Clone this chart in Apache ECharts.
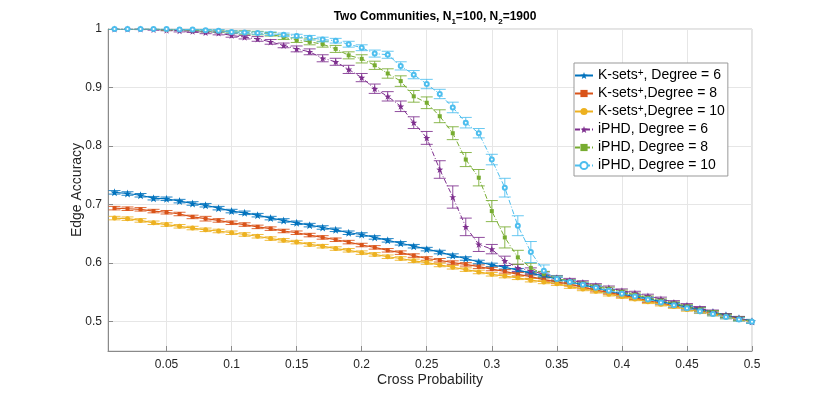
<!DOCTYPE html>
<html>
<head>
<meta charset="utf-8">
<script src="https://cdn.jsdelivr.net/npm/echarts@6/dist/echarts.min.js"></script>
<style>
html,body{margin:0;padding:0;background:#fff;}
#main{width:830px;height:395px;}
</style>
</head>
<body>
<div id="main"></div>
<script>
// cross probability
var crossProb = [0.01,0.02,0.03,0.04,0.05,0.06,0.07,0.08,0.09,0.10,
	0.11,0.12,0.13,0.14,0.15,0.16,0.17,0.18,0.19,0.20,
	0.21,0.22,0.23,0.24,0.25,0.26,0.27,0.28,0.29,0.30,
	0.31,0.32,0.33,0.34,0.35,0.36,0.37,0.38,0.39,0.40,
	0.41,0.42,0.43,0.44,0.45,0.46,0.47,0.48,0.49,0.50];

var ksets6 = [.721,.719,.716,.711,.710,.706,.702,.699,.694,.689,.686,.682,.677,.673,.669,.665,.661,.657,.652,.649,
	.644,.639,.634,.629,.624,.619,.613,.608,.602,.597,.593,.588,.583,.578,.573,.568,.563,.558,.552,.547,
	.543,.539,.534,.530,.525,.521,.516,.511,.506,.501];
var ksets8 = [.694,.693,.692,.689,.687,.684,.679,.676,.673,.669,.666,.662,.659,.655,.652,.648,.644,.640,.636,.631,
	.627,.622,.618,.613,.608,.605,.601,.598,.594,.590,.586,.581,.577,.572,.568,.564,.559,.554,.550,.545,
	.541,.536,.532,.527,.523,.518,.514,.509,.505,.500];
var ksets10 = [.677,.676,.673,.669,.666,.663,.660,.657,.655,.652,.649,.646,.642,.639,.636,.632,.629,.625,.622,.618,
	.615,.611,.608,.604,.601,.597,.593,.589,.585,.581,.578,.575,.571,.568,.565,.560,.556,.552,.547,.543,
	.539,.534,.530,.526,.521,.517,.513,.508,.504,.500];
var iphd6 = [1.000,1.000,1.000,0.999,0.998,0.997,0.996,0.994,0.993,0.989,0.986,0.983,0.978,0.972,0.966,0.961,0.950,0.944,0.931,0.917,
	0.898,0.885,0.868,0.840,0.814,0.760,0.713,0.662,0.632,0.624,0.604,0.592,0.587,0.581,0.575,0.571,0.567,0.562,0.558,0.553,
	0.549,0.544,0.539,0.533,0.528,0.523,0.517,0.511,0.506,0.500];
var iphd8 = [1.000,1.000,1.000,1.000,0.999,0.999,0.998,0.997,0.996,0.995,0.994,0.993,0.991,0.986,0.981,0.978,0.974,0.966,0.955,0.949,
	0.938,0.924,0.911,0.885,0.874,0.851,0.822,0.777,0.746,0.689,0.644,0.610,0.592,0.581,0.574,0.569,0.565,0.560,0.556,0.551,
	0.546,0.541,0.536,0.531,0.526,0.521,0.516,0.510,0.505,0.500];
var iphd10 = [1.000,1.000,1.000,1.000,1.000,0.999,0.999,0.998,0.997,0.995,0.994,0.993,0.992,0.990,0.988,0.985,0.982,0.980,0.974,0.968,
	0.958,0.956,0.937,0.922,0.906,0.889,0.866,0.840,0.822,0.777,0.729,0.664,0.619,0.587,0.573,0.568,0.563,0.558,0.553,0.548,
	0.543,0.538,0.533,0.528,0.523,0.518,0.513,0.508,0.504,0.500];

// error bar half lengths
var ksetsErr6 = [.003,.003,.003,.003,.003,.003,.003,.003,.003,.003,.003,.003,.003,.003,.003,.003,.003,.003,.003,.003,
	.003,.003,.003,.003,.003,.003,.003,.003,.003,.003,.003,.003,.003,.003,.003,.003,.003,.003,.003,.003,
	.003,.003,.003,.003,.003,.003,.003,.003,.003,.003];
var ksetsErr8 = [.003,.003,.003,.003,.003,.003,.003,.004,.003,.003,.003,.003,.003,.003,.003,.003,.003,.003,.003,.003,
	.003,.003,.003,.003,.003,.003,.003,.003,.003,.003,.003,.003,.003,.003,.003,.003,.003,.003,.003,.003,
	.003,.003,.003,.003,.003,.003,.003,.003,.003,.003];
var ksetsErr10 = [.003,.003,.003,.003,.003,.003,.003,.003,.003,.003,.003,.003,.003,.003,.003,.003,.003,.003,.003,.003,
	.003,.003,.003,.003,.003,.003,.003,.003,.003,.003,.003,.003,.003,.003,.003,.003,.003,.003,.003,.003,
	.003,.003,.003,.003,.003,.003,.003,.003,.003,.003];
var iphdErr6 = [0,0,.001,.001,.001,.002,.002,.002,.003,.003,.003,.004,.004,.004,.005,.005,.006,.006,.007,.007,
	.008,.008,.009,.010,.011,.015,.019,.015,.012,.008,.008,.006,.005,.004,.004,.003,.003,.003,.003,.003,
	.003,.003,.003,.003,.003,.003,.003,.003,.003,.003];
var iphdErr8 = [0,0,0,0,.001,.001,.001,.002,.002,.002,.003,.003,.003,.004,.004,.005,.005,.006,.006,.007,
	.007,.008,.009,.010,.010,.011,.011,.012,.014,.018,.018,.012,.008,.005,.004,.003,.003,.003,.003,.003,
	.003,.003,.003,.003,.003,.003,.003,.003,.003,.003];
var iphdErr10 = [0,0,0,0,0,.001,.001,.001,.002,.002,.002,.002,.003,.003,.003,.004,.004,.004,.005,.005,
	.006,.006,.007,.007,.008,.008,.009,.009,.008,.009,.016,.017,.018,.010,.005,.003,.003,.003,.003,.003,
	.003,.003,.003,.003,.003,.003,.003,.003,.003,.003];

var xTicks = [0.05,0.1,0.15,0.2,0.25,0.3,0.35,0.4,0.45,0.5];
var yTicks = [0.5,0.6,0.7,0.8,0.9,1];

var starPath = 'path://M0,-10L2.35,-3.24L9.51,-3.09L3.8,1.24L5.88,8.09L0,4L-5.88,8.09L-3.8,1.24L-9.51,-3.09L-2.35,-3.24Z';

var seriesDefs = [
	{name:'ks6', y:ksets6, err:ksetsErr6, color:'#0072BD', symbol:starPath, size:8, dash:'solid', hollow:false},
	{name:'ks8', y:ksets8, err:ksetsErr8, color:'#D95319', symbol:'rect', size:4, dash:'solid', hollow:false},
	{name:'ks10', y:ksets10, err:ksetsErr10, color:'#EDB120', symbol:'circle', size:5, dash:'solid', hollow:false},
	{name:'ip6', y:iphd6, err:iphdErr6, color:'#7E2F8E', symbol:starPath, size:7, dash:[5,2,1,2], hollow:false},
	{name:'ip8', y:iphd8, err:iphdErr8, color:'#77AC30', symbol:'rect', size:4, dash:[5,2,1,2], hollow:false},
	{name:'ip10', y:iphd10, err:iphdErr10, color:'#4DBEEE', symbol:'emptyCircle', size:4, dash:[5,2,1,2], hollow:true}
];

var legendText = {
	ks6:'K-sets{sup|+}, Degree = 6',
	ks8:'K-sets{sup|+},Degree = 8',
	ks10:'K-sets{sup|+},Degree = 10',
	ip6:'iPHD, Degree = 6',
	ip8:'iPHD, Degree = 8',
	ip10:'iPHD, Degree = 10'
};

function makeErrRender(color){
	return function(params, api){
		var x = api.value(0), y = api.value(1), e = api.value(2);
		var top = api.coord([x, y + e]);
		var bot = api.coord([x, y - e]);
		var w = 6;
		var st = {stroke: color, lineWidth: 1, opacity: 0.85};
		return {type:'group', children:[
			{type:'line', shape:{x1:top[0], y1:top[1], x2:bot[0], y2:bot[1]}, style:st},
			{type:'line', shape:{x1:top[0]-w, y1:top[1], x2:top[0]+w, y2:top[1]}, style:st},
			{type:'line', shape:{x1:bot[0]-w, y1:bot[1], x2:bot[0]+w, y2:bot[1]}, style:st}
		]};
	};
}

var series = [];
seriesDefs.forEach(function(d){
	var errData = [];
	crossProb.forEach(function(x, i){ errData.push([x, d.y[i], d.err[i]]); });
	series.push({
		name: d.name + '_err',
		type: 'custom',
		renderItem: makeErrRender(d.color),
		data: errData,
		encode: {x:0, y:1},
		clip: true,
		silent: true,
		z: 2
	});
});
seriesDefs.forEach(function(d){
	var lineData = [];
	crossProb.forEach(function(x, i){ lineData.push([x, d.y[i]]); });
	series.push({
		name: d.name,
		type: 'line',
		data: lineData,
		color: d.color,
		symbol: d.symbol,
		symbolSize: d.size,
		showAllSymbol: true,
		lineStyle: {width: d.dash === 'solid' ? 1.2 : 1, type: d.dash, color: d.color},
		itemStyle: {color: d.color, borderColor: d.color, borderWidth: d.hollow ? 1 : 0},
		z: 3
	});
});

var myChart = echarts.init(document.getElementById('main'));
var option = {
	animation: false,
	backgroundColor: '#fff',
	textStyle: {fontFamily: 'Liberation Sans'},
	title: {
		text: 'Two Communities, N{sub|1}=100, N{sub|2}=1900',
		left: 430,
		textAlign: 'center',
		top: 3,
		textStyle: {
			fontSize: 12, fontWeight: 'bold', color: '#000', lineHeight: 18,
			rich: {sub: {fontSize: 8, fontWeight: 'bold', lineHeight: 8, verticalAlign: 'bottom', color: '#000'}}
		}
	},
	legend: {
		data: seriesDefs.map(function(d){ return d.name; }),
		orient: 'vertical',
		left: 574,
		top: 63,
		padding: [5, 3, 3, 0],
		itemGap: 3,
		itemWidth: 18,
		itemHeight: 9,
		backgroundColor: '#fff',
		borderColor: '#999',
		borderWidth: 1,
		borderRadius: 0,
		formatter: function(name){ return legendText[name]; },
		textStyle: {
			fontSize: 14, color: '#000', lineHeight: 15,
			rich: {sup: {fontSize: 10, verticalAlign: 'top', lineHeight: 10, color: '#000'}}
		}
	},
	grid: {
		left: 108, right: 78, top: 29, bottom: 44,
		show: true, borderColor: '#c8c8c8', borderWidth: 1
	},
	xAxis: {
		type: 'value',
		min: 0.005,
		max: 0.5,
		name: 'Cross Probability',
		nameLocation: 'middle',
		nameGap: 22,
		nameMoveOverlap: false,
		nameTextStyle: {fontSize: 14, color: '#262626'},
		axisLine: {lineStyle: {color: '#8a8a8a'}},
		axisTick: {inside: true, length: 5, lineStyle: {color: '#8a8a8a'}, customValues: xTicks},
		axisLabel: {fontSize: 12, color: '#262626', margin: 8, customValues: xTicks,
			formatter: function(v){ return String(+v.toFixed(2)); }},
		splitLine: {show: true, lineStyle: {color: '#e6e6e6'}}
	},
	yAxis: {
		type: 'value',
		min: 0.45,
		max: 1,
		name: 'Edge Accuracy',
		nameLocation: 'middle',
		nameGap: 24,
		nameMoveOverlap: false,
		nameTextStyle: {fontSize: 14, color: '#262626'},
		axisLine: {show: true, lineStyle: {color: '#8a8a8a'}},
		axisTick: {show: true, inside: true, length: 5, lineStyle: {color: '#8a8a8a'}, customValues: yTicks},
		axisLabel: {fontSize: 12, color: '#262626', margin: 6, customValues: yTicks,
			formatter: function(v){ return String(+v.toFixed(1)); }},
		splitLine: {show: true, lineStyle: {color: '#e6e6e6'}}
	},
	series: series
};
myChart.setOption(option);
</script>
</body>
</html>
